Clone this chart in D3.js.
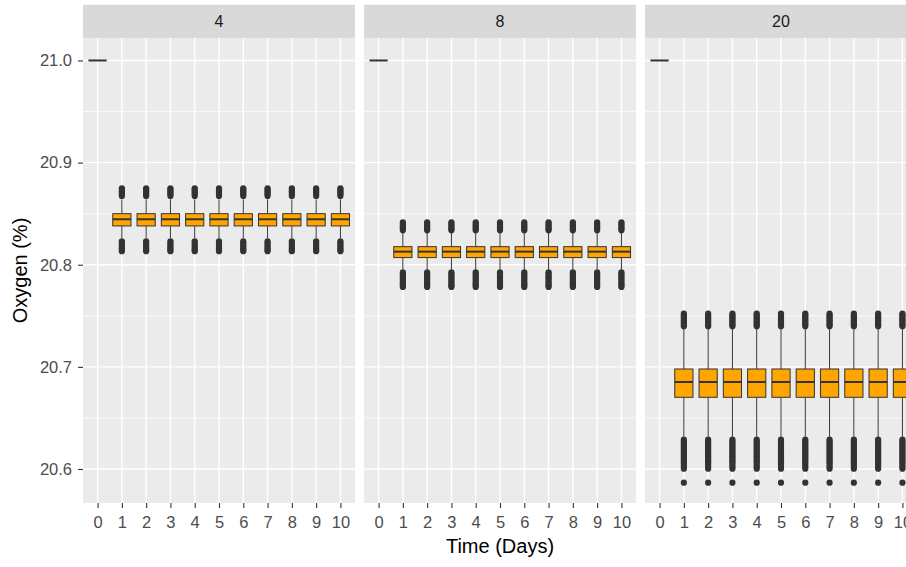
<!DOCTYPE html>
<html>
<head>
<meta charset="utf-8">
<script src="https://cdn.jsdelivr.net/npm/d3@7"></script>
<style>
  body { margin: 0; background: #fff; }
  svg { display: block; font-family: 'Liberation Sans', Arial, sans-serif; }
</style>
</head>
<body>
<svg id="chart"></svg>
<script>
const facets = ['4', '8', '20'];
const days = ['0', '1', '2', '3', '4', '5', '6', '7', '8', '9', '10'];
const yTicks = [20.6, 20.7, 20.8, 20.9, 21.0];
const yMinorTicks = [20.65, 20.75, 20.85, 20.95];

// day 0 is a single value in every facet
const day0Values = [21.0, 21.0, 21.0];

// days 1-10 look the same inside each facet
const lowerWhiskers = [20.826, 20.7953, 20.6316];
const q1Values = [20.838, 20.807, 20.6702];
const medianValues = [20.8445, 20.8128, 20.6852];
const q3Values = [20.850, 20.8177, 20.6979];
const upperWhiskers = [20.864, 20.8311, 20.7368];

const upperOutliers = [
    [20.8673, 20.869, 20.8705, 20.872, 20.8735, 20.8748],
    [20.8337, 20.8352, 20.8368, 20.8384, 20.84, 20.8416],
    [20.7397, 20.7412, 20.7428, 20.7445, 20.746, 20.7476, 20.749, 20.7506, 20.7521]
];
const lowerOutliers = [
    [20.823, 20.8212, 20.8195, 20.8178, 20.816, 20.8145, 20.8132],
    [20.7926, 20.791, 20.7893, 20.7876, 20.786, 20.7843, 20.7826, 20.781, 20.7795, 20.7782],
    [20.6287, 20.627, 20.6254, 20.6238, 20.622, 20.6205, 20.619, 20.6172, 20.6156, 20.614,
     20.6124, 20.6108, 20.6092, 20.6076, 20.606, 20.604, 20.6022, 20.6003, 20.5866]
];

const width = 906;
const height = 567;
const panel = { left: 83, top: 38, width: 272, height: 465, step: 281 };
const stripTop = 4.7;

const svg = d3.select('#chart')
    .attr('width', width)
    .attr('height', height);

const xScale = d3.scalePoint()
    .domain(days)
    .range([0, panel.width])
    .padding(0.6);

const yScale = d3.scaleLinear()
    .domain([20.5667, 21.022])
    .range([panel.top + panel.height, panel.top]);

const boxWidth = xScale.step() * 0.75;

facets.forEach((facet, fi) => {
    const g = svg.append('g')
        .attr('transform', 'translate(' + (panel.left + fi * panel.step) + ',0)');

    // strip
    g.append('rect')
        .attr('x', 0)
        .attr('y', stripTop)
        .attr('width', panel.width)
        .attr('height', panel.top - stripTop)
        .attr('fill', '#d9d9d9');
    g.append('text')
        .attr('x', panel.width / 2)
        .attr('y', 27)
        .attr('text-anchor', 'middle')
        .attr('font-size', '16px')
        .attr('fill', '#1a1a1a')
        .text(facet);

    // panel background + grid
    g.append('rect')
        .attr('x', 0)
        .attr('y', panel.top)
        .attr('width', panel.width)
        .attr('height', panel.height)
        .attr('fill', '#ebebeb');
    g.selectAll('.minor')
        .data(yMinorTicks)
        .enter()
        .append('line')
        .attr('x1', 0)
        .attr('x2', panel.width)
        .attr('y1', (d) => yScale(d))
        .attr('y2', (d) => yScale(d))
        .attr('stroke', '#fff')
        .attr('stroke-width', 0.7);
    g.selectAll('.hmajor')
        .data(yTicks)
        .enter()
        .append('line')
        .attr('x1', 0)
        .attr('x2', panel.width)
        .attr('y1', (d) => yScale(d))
        .attr('y2', (d) => yScale(d))
        .attr('stroke', '#fff')
        .attr('stroke-width', 1.4);
    g.selectAll('.vmajor')
        .data(days)
        .enter()
        .append('line')
        .attr('x1', (d) => xScale(d))
        .attr('x2', (d) => xScale(d))
        .attr('y1', panel.top)
        .attr('y2', panel.top + panel.height)
        .attr('stroke', '#fff')
        .attr('stroke-width', 1.4);

    // boxes
    const boxes = days.map((d, i) => i === 0
        ? { day: d, lo: day0Values[fi], q1: day0Values[fi], med: day0Values[fi], q3: day0Values[fi], hi: day0Values[fi], up: [], down: [] }
        : { day: d, lo: lowerWhiskers[fi], q1: q1Values[fi], med: medianValues[fi], q3: q3Values[fi], hi: upperWhiskers[fi], up: upperOutliers[fi], down: lowerOutliers[fi] });

    const bg = g.selectAll('.box')
        .data(boxes)
        .enter()
        .append('g')
        .attr('class', 'box')
        .attr('transform', (d) => 'translate(' + xScale(d.day) + ',0)');

    bg.selectAll('circle')
        .data((d) => d.up.concat(d.down))
        .enter()
        .append('circle')
        .attr('cx', 0)
        .attr('cy', (v) => yScale(v))
        .attr('r', 3.1)
        .attr('fill', '#333333');

    bg.append('line')
        .attr('y1', (d) => yScale(d.hi))
        .attr('y2', (d) => yScale(d.q3))
        .attr('stroke', '#333333')
        .attr('stroke-width', 1);
    bg.append('line')
        .attr('y1', (d) => yScale(d.q1))
        .attr('y2', (d) => yScale(d.lo))
        .attr('stroke', '#333333')
        .attr('stroke-width', 1);
    bg.append('rect')
        .attr('x', -boxWidth / 2)
        .attr('width', boxWidth)
        .attr('y', (d) => yScale(d.q3))
        .attr('height', (d) => yScale(d.q1) - yScale(d.q3))
        .attr('fill', '#ffa500')
        .attr('stroke', '#333333')
        .attr('stroke-width', 1);
    bg.append('line')
        .attr('x1', -boxWidth / 2)
        .attr('x2', boxWidth / 2)
        .attr('y1', (d) => yScale(d.med))
        .attr('y2', (d) => yScale(d.med))
        .attr('stroke', '#333333')
        .attr('stroke-width', 2);

    // x axis
    const xAxis = g.append('g')
        .attr('transform', 'translate(0,' + (panel.top + panel.height) + ')')
        .call(d3.axisBottom(xScale).tickSize(5).tickPadding(8));
    xAxis.select('.domain').remove();
    xAxis.selectAll('line').attr('stroke', '#333333').attr('stroke-width', 1.1);
    xAxis.selectAll('text')
        .attr('font-size', '16.5px')
        .attr('font-family', null)
        .attr('fill', '#4d4d4d');
});

// y axis
const yAxis = svg.append('g')
    .attr('transform', 'translate(' + panel.left + ',0)')
    .call(d3.axisLeft(yScale).tickValues(yTicks).tickFormat(d3.format('.1f')).tickSize(5).tickPadding(6));
yAxis.select('.domain').remove();
yAxis.selectAll('line').attr('stroke', '#333333').attr('stroke-width', 1.1);
yAxis.selectAll('text')
    .attr('font-size', '16.5px')
    .attr('font-family', null)
    .attr('fill', '#4d4d4d');

// axis titles
svg.append('text')
    .attr('x', panel.left + (panel.step * 2 + panel.width) / 2)
    .attr('y', 553)
    .attr('text-anchor', 'middle')
    .attr('font-size', '20px')
    .attr('fill', '#000')
    .text('Time (Days)');

svg.append('text')
    .attr('transform', 'translate(27,' + (panel.top + panel.height / 2) + ') rotate(-90)')
    .attr('text-anchor', 'middle')
    .attr('font-size', '20px')
    .attr('fill', '#000')
    .text('Oxygen (%)');
</script>
</body>
</html>
